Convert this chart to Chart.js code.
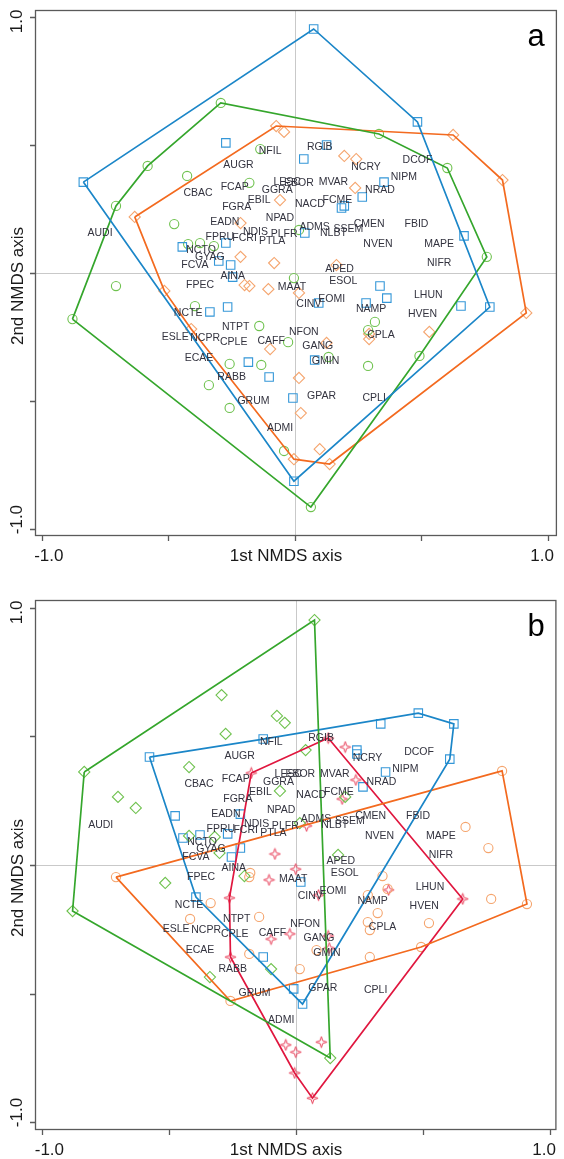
<!DOCTYPE html>
<html><head><meta charset="utf-8">
<script src="https://cdn.jsdelivr.net/npm/chart.js@4.4.1/dist/chart.umd.min.js"></script>
<style>
html,body{margin:0;padding:0;background:#fff;}
#wa{position:absolute;left:0;top:0;width:564px;height:580px;}
#wb{position:absolute;left:0;top:580px;width:564px;height:579px;}
canvas{display:block;}
</style></head><body>
<div id="wa"><canvas id="ca" width="564" height="580"></canvas></div>
<div id="wb"><canvas id="cb" width="564" height="579"></canvas></div>
<script>
// ---------- species labels (shared by both panels) ----------
const speciesNames = ["NFIL","RGIB","AUGR","NCRY","DCOF","NIPM","CBAC","FCAP","LESC","EBOR","GGRA","MVAR","NRAD","EBIL","FGRA","NACD","FCME","NPAD","EADN","CMEN","FBID","ADMS","SSEM","NLBT","NDIS","PLFR","FPRU","FCRI","PTLA","NVEN","MAPE","AUDI","NCTO","GYAG","FCVA","NIFR","APED","AINA","ESOL","FPEC","MAAT","LHUN","EOMI","CINV","NAMP","NCTE","HVEN","NTPT","NFON","CPLA","ESLE","NCPR","CPLE","CAFF","GANG","ECAE","GMIN","RABB","GPAR","CPLI","GRUM","ADMI"];
const speciesX = [-0.098,0.098,-0.223,0.281,0.484,0.430,-0.383,-0.238,-0.031,0.016,-0.070,0.152,0.336,-0.141,-0.230,0.059,0.168,-0.059,-0.277,0.293,0.480,0.078,0.211,0.152,-0.156,-0.043,-0.297,-0.199,-0.090,0.328,0.570,-0.770,-0.371,-0.336,-0.395,0.570,0.176,-0.246,0.191,-0.375,-0.012,0.527,0.145,0.055,0.301,-0.422,0.504,-0.234,0.035,0.340,-0.473,-0.355,-0.242,-0.094,0.090,-0.379,0.121,-0.250,0.105,0.313,-0.164,-0.059];
const speciesY = [0.477,0.492,0.422,0.414,0.441,0.375,0.313,0.336,0.355,0.352,0.324,0.355,0.324,0.285,0.258,0.270,0.285,0.215,0.199,0.191,0.191,0.180,0.172,0.156,0.160,0.152,0.141,0.137,0.125,0.113,0.113,0.156,0.090,0.063,0.031,0.039,0.016,-0.012,-0.031,-0.047,-0.055,-0.086,-0.102,-0.121,-0.141,-0.156,-0.160,-0.211,-0.230,-0.242,-0.250,-0.254,-0.270,-0.266,-0.285,-0.332,-0.344,-0.406,-0.480,-0.488,-0.500,-0.605];

// ---------- axis ticks ----------
const tickValues = [-1, -0.5, 0, 0.5, 1];
const tickLabels = ["-1.0", "", "", "", "1.0"];
const xAxisTitle = "1st NMDS axis";
const yAxisTitle = "2nd NMDS axis";

// ---------- panel a : sites (blue squares, green circles, orange diamonds) ----------
const aBlueX = [-0.836,0.074,0.484,0.770,-0.004,-0.273,0.125,0.035,0.352,0.266,0.184,0.195,0.039,0.668,-0.445,-0.273,-0.301,-0.254,-0.246,-0.336,-0.266,0.336,0.363,0.281,0.094,0.656,-0.184,-0.102,-0.008,0.078];
const aBlueY = [0.355,0.953,0.590,-0.133,-0.813,0.508,0.500,0.445,0.355,0.297,0.254,0.262,0.156,0.145,0.102,0.117,0.047,0.031,-0.016,-0.152,-0.133,-0.051,-0.098,-0.117,-0.117,-0.129,-0.348,-0.406,-0.488,-0.340];
const aBlueHull = [0,1,2,3,4];

const aGreenX = [-0.879,-0.707,-0.582,-0.293,0.332,0.602,0.758,0.492,0.063,-0.426,-0.180,-0.137,-0.477,-0.422,-0.375,-0.320,0.016,-0.004,-0.707,-0.395,-0.141,-0.027,-0.258,-0.133,-0.340,-0.258,-0.043,0.133,0.289,0.316,0.289];
const aGreenY = [-0.180,0.262,0.418,0.664,0.543,0.410,0.063,-0.324,-0.914,0.379,0.352,0.484,0.191,0.113,0.117,0.105,0.168,-0.020,-0.051,-0.129,-0.207,-0.270,-0.355,-0.359,-0.438,-0.527,-0.695,-0.328,-0.363,-0.191,-0.223];
const aGreenHull = [0,1,2,3,4,5,6,7,8];

const aOrangeX = [-0.633,-0.074,0.625,0.820,0.914,0.137,-0.004,-0.410,-0.516,-0.043,0.195,0.242,0.238,-0.059,-0.215,-0.215,-0.082,0.164,-0.199,-0.180,-0.105,0.016,-0.098,0.125,0.016,0.023,0.098,0.293,0.293,0.531];
const aOrangeY = [0.219,0.574,0.539,0.363,-0.156,-0.746,-0.727,-0.219,-0.070,0.551,0.457,0.445,0.332,0.285,0.195,0.063,0.039,0.031,-0.047,-0.051,-0.063,-0.078,-0.297,-0.273,-0.410,-0.547,-0.688,-0.238,-0.258,-0.230];
const aOrangeHull = [0,1,2,3,4,5,6,7,8];

// ---------- panel b : sites (green diamonds, blue squares, orange circles, red stars) ----------
const bGreenX = [-0.835,0.072,0.134,-0.881,-0.294,-0.076,-0.045,-0.278,-0.422,-0.702,-0.632,-0.064,-0.422,-0.321,-0.302,0.037,0.193,0.014,0.165,-0.516,-0.204,-0.340,-0.099];
const bGreenY = [0.362,0.953,-0.751,-0.179,0.661,0.580,0.553,0.510,0.381,0.265,0.222,0.288,0.113,0.109,0.047,0.447,0.265,0.163,0.039,-0.070,-0.043,-0.436,-0.405];
const bGreenHull = [0,1,2,3];

const bBlueX = [-0.578,-0.130,0.481,0.621,0.605,0.025,-0.395,0.333,0.239,0.239,0.352,0.263,-0.477,-0.446,-0.379,-0.270,-0.220,-0.220,-0.255,0.018,-0.010,-0.130];
const bBlueY = [0.420,0.490,0.591,0.549,0.412,-0.541,-0.125,0.549,0.447,0.432,0.362,0.304,0.191,0.105,0.117,0.121,0.198,0.066,0.031,-0.066,-0.482,-0.358];
const bBlueHull = [0,1,2,3,4,5,6];

const bOrangeX = [-0.710,-0.259,0.492,0.909,0.811,0.667,0.757,0.768,-0.185,-0.337,-0.418,-0.146,-0.185,-0.181,0.340,0.282,0.360,0.321,0.282,0.290,0.523,0.290,0.080,0.014];
const bOrangeY = [-0.047,-0.529,-0.319,-0.152,0.366,0.148,0.066,-0.132,-0.047,-0.148,-0.210,-0.202,-0.346,-0.031,-0.043,-0.117,-0.093,-0.187,-0.222,-0.253,-0.226,-0.358,-0.331,-0.405];
const bOrangeHull = [0,1,2,3,4];

const bRedX = [-0.177,0.126,0.656,0.064,-0.006,-0.259,-0.263,0.193,0.235,0.181,0.041,-0.084,-0.002,-0.107,0.088,0.364,-0.099,-0.025,0.126,0.130,0.099,-0.041,-0.002];
const bRedY = [0.358,0.494,-0.132,-0.907,-0.809,-0.358,-0.128,0.459,0.331,0.257,0.152,0.043,-0.016,-0.058,-0.117,-0.097,-0.288,-0.268,-0.276,-0.323,-0.689,-0.700,-0.728];
const bRedHull = [0,1,2,3,4,5,6];

// ---------- helpers ----------
const pts = (X, Y) => X.map((v, i) => ({x: v, y: Y[i]}));
const hullPts = (X, Y, H) => H.concat([H[0]]).map(i => ({x: X[i], y: Y[i]}));

function starCanvas(color) {
  const c = document.createElement('canvas');
  c.width = 13; c.height = 13;
  const g = c.getContext('2d');
  const cx = 6.5, cy = 6.5, R = 5.6, r = 1.9;
  g.beginPath();
  for (let i = 0; i < 8; i++) {
    const ang = -Math.PI / 2 + i * Math.PI / 4;
    const rad = (i % 2) ? r : R;
    g.lineTo(cx + rad * Math.cos(ang), cy + rad * Math.sin(ang));
  }
  g.closePath();
  g.strokeStyle = color; g.lineWidth = 1; g.stroke();
  return c;
}

const COLORS = {
  blue:   {pt: '#3497d8', line: '#1b86c8'},
  green:  {pt: '#6fc24f', line: '#35a62c'},
  orange: {pt: '#f5a56e', line: '#f36a1f'},
  red:    {pt: '#e8405a', line: '#e0173f'}
};
const SHAPES = {
  square:  {style: 'rect', r: 6},
  circle:  {style: 'circle', r: 4.6},
  diamond: {style: 'rectRot', r: 5.6},
  star:    {style: null, r: 6.5}
};

function groupDatasets(X, Y, H, colorKey, shapeKey) {
  const c = COLORS[colorKey], s = SHAPES[shapeKey];
  const shape = s.style || starCanvas(c.pt);
  return [
    {data: hullPts(X, Y, H), showLine: true, fill: false, borderColor: c.line, borderWidth: 1.7,
     pointRadius: 0, tension: 0, order: 1},
    {data: pts(X, Y), showLine: false, pointStyle: shape, pointRadius: s.r,
     pointBorderColor: c.pt, pointBackgroundColor: 'rgba(0,0,0,0)', pointBorderWidth: 1.1, order: 2}
  ];
}

function decoPlugin(letter) {
  return {
    id: 'deco',
    beforeDatasetsDraw(chart) {
      const {ctx, chartArea: a, scales: {x, y}} = chart;
      ctx.save();
      ctx.strokeStyle = '#c9c9c9'; ctx.lineWidth = 1;
      const x0 = Math.round(x.getPixelForValue(0)) + 0.5;
      const y0 = Math.round(y.getPixelForValue(0)) + 0.5;
      ctx.beginPath();
      ctx.moveTo(x0, a.top); ctx.lineTo(x0, a.bottom);
      ctx.moveTo(a.left, y0); ctx.lineTo(a.right, y0);
      ctx.stroke();
      ctx.restore();
    },
    afterDatasetsDraw(chart) {
      const {ctx, scales: {x, y}} = chart;
      ctx.save();
      ctx.font = '10.5px "Liberation Sans", Arial, sans-serif';
      ctx.fillStyle = '#33333f';
      ctx.textAlign = 'center'; ctx.textBaseline = 'middle';
      speciesNames.forEach((n, i) => {
        ctx.fillText(n, x.getPixelForValue(speciesX[i]), y.getPixelForValue(speciesY[i]));
      });
      ctx.restore();
    },
    afterDraw(chart) {
      const {ctx, chartArea: a, scales: {x, y}} = chart;
      ctx.save();
      ctx.strokeStyle = '#5a5a5a'; ctx.lineWidth = 1.3;
      ctx.strokeRect(a.left + 0.5, a.top + 0.5, a.right - a.left - 1, a.bottom - a.top - 1);
      ctx.beginPath();
      tickValues.forEach(v => {
        const px = Math.round(x.getPixelForValue(v)) + 0.5;
        ctx.moveTo(px, a.bottom); ctx.lineTo(px, a.bottom + 5);
        const py = Math.round(y.getPixelForValue(v)) + 0.5;
        ctx.moveTo(a.left - 5, py); ctx.lineTo(a.left, py);
      });
      ctx.stroke();
      ctx.fillStyle = '#1a1a1a';
      ctx.font = '17px "Liberation Sans", Arial, sans-serif';
      ctx.textAlign = 'center'; ctx.textBaseline = 'middle';
      const ty = a.bottom + 20;
      tickValues.forEach((v, i) => {
        if (!tickLabels[i]) return;
        const shift = v < 0 ? 7 : -6;
        ctx.fillText(tickLabels[i], x.getPixelForValue(v) + shift, ty);
      });
      ctx.fillText(xAxisTitle, 286, ty);
      tickValues.forEach((v, i) => {
        if (!tickLabels[i]) return;
        const shift = v < 0 ? -9.5 : 4.5;
        ctx.save();
        ctx.translate(17, y.getPixelForValue(v) + shift);
        ctx.rotate(-Math.PI / 2);
        ctx.fillText(tickLabels[i], 0, 0);
        ctx.restore();
      });
      ctx.save();
      ctx.translate(18, y.getPixelForValue(0) + 13);
      ctx.rotate(-Math.PI / 2);
      ctx.fillText(yAxisTitle, 0, 0);
      ctx.restore();
      ctx.font = '31px "Liberation Sans", Arial, sans-serif';
      ctx.fillStyle = '#000';
      ctx.textBaseline = 'alphabetic';
      ctx.fillText(letter, 536, a.top + 36);
      ctx.restore();
    }
  };
}

function makeChart(id, datasets, letter, pad, xr, yr) {
  return new Chart(document.getElementById(id), {
    type: 'scatter',
    data: {datasets},
    options: {
      responsive: false, animation: false, events: [],
      layout: {padding: pad},
      plugins: {legend: {display: false}, tooltip: {enabled: false}},
      scales: {
        x: {type: 'linear', display: false, min: xr[0], max: xr[1]},
        y: {type: 'linear', display: false, min: yr[0], max: yr[1]}
      }
    },
    plugins: [decoPlugin(letter)]
  });
}

makeChart('ca', [
  ...groupDatasets(aBlueX, aBlueY, aBlueHull, 'blue', 'square'),
  ...groupDatasets(aGreenX, aGreenY, aGreenHull, 'green', 'circle'),
  ...groupDatasets(aOrangeX, aOrangeY, aOrangeHull, 'orange', 'diamond')
], 'a', {left: 35, right: 1, top: 10, bottom: 44}, [-1.027, 1.035], [-1.027, 1.027]);

makeChart('cb', [
  ...groupDatasets(bGreenX, bGreenY, bGreenHull, 'green', 'diamond'),
  ...groupDatasets(bBlueX, bBlueY, bBlueHull, 'blue', 'square'),
  ...groupDatasets(bOrangeX, bOrangeY, bOrangeHull, 'orange', 'circle'),
  ...groupDatasets(bRedX, bRedY, bRedHull, 'red', 'star')
], 'b', {left: 35, right: 1, top: 20, bottom: 29}, [-1.029, 1.025], [-1.031, 1.031]);
</script>
</body></html>
